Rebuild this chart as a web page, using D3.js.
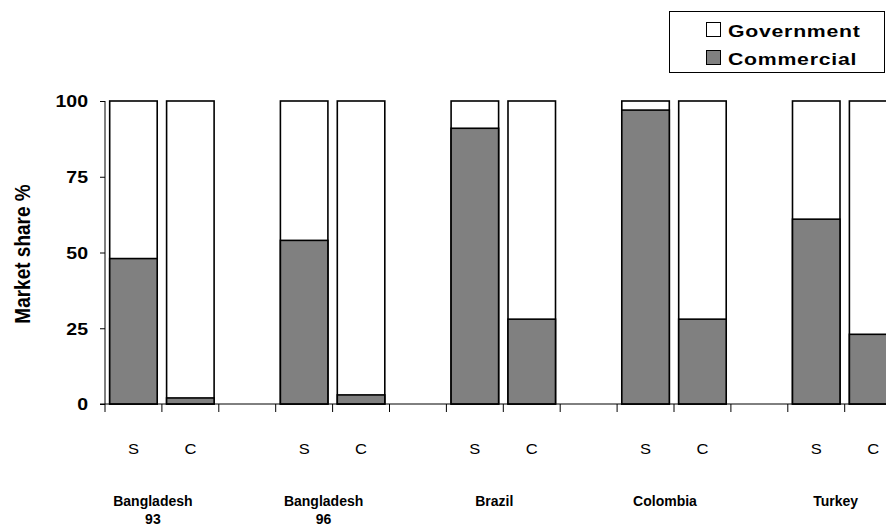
<!DOCTYPE html>
<html><head><meta charset="utf-8">
<script src="https://cdn.jsdelivr.net/npm/d3@7"></script>
<style>html,body{margin:0;padding:0;background:#fff;overflow:hidden}</style>
</head><body>
<script>
// ---- data ----
const groups = ["Bangladesh 93", "Bangladesh 96", "Brazil", "Colombia", "Turkey"];
const groupLabelLines = [["Bangladesh", "93"], ["Bangladesh", "96"], ["Brazil"], ["Colombia"], ["Turkey"]];
const types = ["S", "C"];
const commercialS = [48, 54, 91, 97, 61];
const commercialC = [2, 3, 28, 28, 23];
const yTicks = [0, 25, 50, 75, 100];
const seriesNames = ["Government", "Commercial"];
const seriesColors = ["#ffffff", "#808080"];

// ---- build slots ----
const slots = [];
groups.forEach((g, i) => {
  types.forEach(t => {
    const com = t === "S" ? commercialS[i] : commercialC[i];
    slots.push({ key: g + "|" + t, group: i, type: t, commercial: com, government: 100 - com });
  });
  if (i < groups.length - 1) slots.push({ key: "gap" + i, gap: true });
});

const W = 886, H = 531;
const FONT = "Arial, 'Liberation Sans', sans-serif";
const svg = d3.select("body").append("svg").attr("width", W).attr("height", H)
  .style("font-family", FONT);

const x0 = 105, step = 56.9;
const x = d3.scaleBand().domain(slots.map(d => d.key))
  .range([x0, x0 + step * slots.length]).paddingInner(0.165).paddingOuter(0.0825);
const y = d3.scaleLinear().domain([0, 100]).range([404, 101]);

// bars
const bars = slots.filter(d => !d.gap);
const g = svg.append("g");
bars.forEach(d => {
  g.append("rect").attr("x", x(d.key)).attr("width", x.bandwidth())
    .attr("y", y(100)).attr("height", y(0) - y(100))
    .attr("fill", seriesColors[0]).attr("stroke", "#000").attr("stroke-width", 1.6);
  g.append("rect").attr("x", x(d.key)).attr("width", x.bandwidth())
    .attr("y", y(d.commercial)).attr("height", y(0) - y(d.commercial))
    .attr("fill", seriesColors[1]).attr("stroke", "#000").attr("stroke-width", 1.6);
});

// y axis
const yAxis = svg.append("g").attr("transform", `translate(${x0},0)`)
  .call(d3.axisLeft(y).tickValues(yTicks).tickSize(5));
yAxis.select(".domain").attr("d", `M0,${y(100)}V${y(0)}`).attr("stroke", "#000");
yAxis.selectAll(".tick line").attr("stroke", "#000");
yAxis.selectAll("text").attr("x", 0).attr("dy", "0.36em")
  .attr("transform", "translate(-17,0) scale(1.22,1)")
  .attr("font-size", 16).attr("font-weight", "bold").attr("fill", "#000")
  .attr("font-family", FONT);

// x axis line and ticks at slot boundaries
svg.append("line").attr("x1", x0 - 5).attr("x2", W).attr("y1", y(0)).attr("y2", y(0)).attr("stroke", "#000");
const boundaries = slots.map(d => x(d.key) - x.step() * x.paddingInner() / 2);
boundaries.push(x0 + step * slots.length);
svg.selectAll(".xt").data(boundaries).enter().append("line")
  .attr("x1", d => d).attr("x2", d => d).attr("y1", y(0)).attr("y2", y(0) + 8).attr("stroke", "#000");

// S / C labels
svg.selectAll(".sc").data(bars).enter().append("text")
  .attr("transform", d => `translate(${x(d.key) + x.bandwidth() / 2},454) scale(1.1,1)`)
  .attr("text-anchor", "middle").attr("font-size", 15).text(d => d.type);

// group labels
groupLabelLines.forEach((lines, i) => {
  const cx = (x(groups[i] + "|S") + x(groups[i] + "|C") + x.bandwidth()) / 2 - 9;
  lines.forEach((ln, j) => {
    svg.append("text").attr("x", cx).attr("y", 506 + j * 18).attr("text-anchor", "middle")
      .attr("font-size", 14).attr("font-weight", "bold").text(ln);
  });
});

// y title
svg.append("text").attr("transform", "translate(30,254) scale(1.12,1) rotate(-90)")
  .attr("text-anchor", "middle")
  .attr("font-size", 19).attr("font-weight", "bold").text("Market share %");

// legend
const lg = svg.append("g");
lg.append("rect").attr("x", 669.5).attr("y", 11.5).attr("width", 215).attr("height", 61)
  .attr("fill", "#fff").attr("stroke", "#000");
seriesNames.forEach((n, i) => {
  lg.append("rect").attr("x", 706.5).attr("y", 22.5 + i * 28).attr("width", 14).attr("height", 14)
    .attr("fill", seriesColors[i]).attr("stroke", "#000");
  lg.append("text").attr("transform", `translate(728,${37 + i * 28}) scale(1.25,1)`)
    .attr("font-size", 17).attr("font-weight", "bold").attr("letter-spacing", "0.6px").text(n);
});
</script>
</body></html>
